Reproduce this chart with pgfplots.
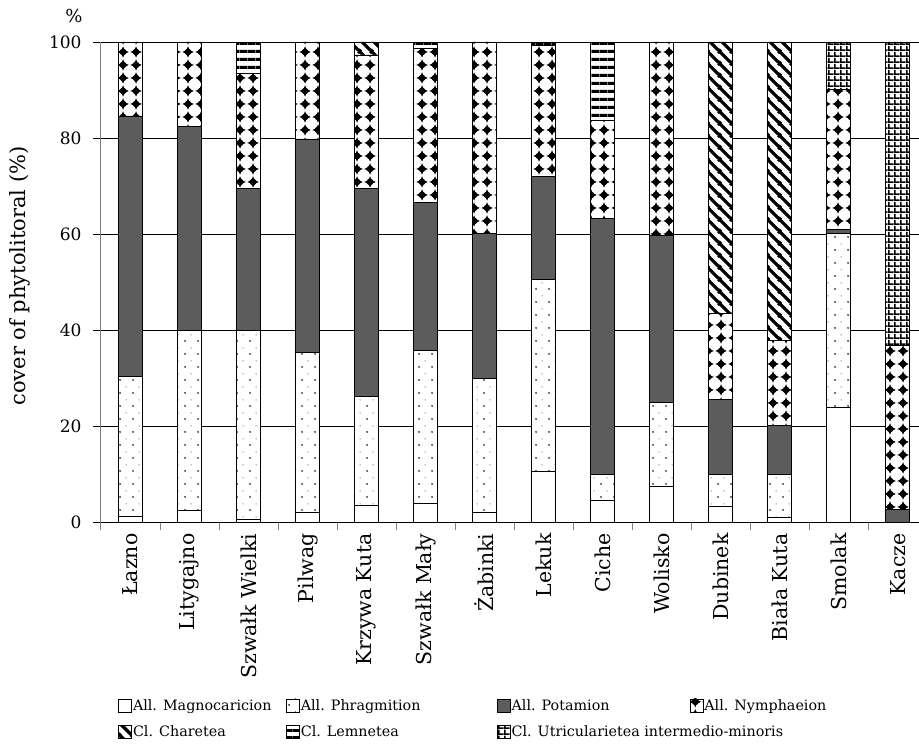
\documentclass[border=0pt]{standalone}
\usepackage{fontspec}
\setmainfont{DejaVu Serif}
\usepackage{pgfplots}
\pgfplotsset{compat=1.18}
\usepackage{pgfplotstable}
\usetikzlibrary{patterns.meta}
\definecolor{pot}{HTML}{5C5C5C}

\tikzdeclarepattern{
  name=phrag, type=colored,
  bottom left={(0pt,0pt)}, top right={(13pt,13pt)}, tile size={(13pt,13pt)},
  code={
    \fill[white] (0pt,0pt) rectangle (13pt,13pt);
    \fill[black!75] (3.25pt,3.25pt) circle (1.1pt);
    \fill[black!60] (9.75pt,9.75pt) circle (0.65pt);
  }
}
\tikzdeclarepattern{
  name=nymph, type=colored,
  bottom left={(0pt,0pt)}, top right={(13pt,13pt)}, tile size={(13pt,13pt)},
  code={
    \fill[white] (0pt,0pt) rectangle (13pt,13pt);
    \fill[black] (6.5pt,0.4pt) .. controls (7.6pt,4.2pt) .. (12.6pt,6.5pt)
      .. controls (7.6pt,8.8pt) .. (6.5pt,12.6pt)
      .. controls (5.4pt,8.8pt) .. (0.4pt,6.5pt)
      .. controls (5.4pt,4.2pt) .. (6.5pt,0.4pt);
    \fill[black] (6.5pt,6.5pt) circle (3.6pt);
  }
}
\tikzdeclarepattern{
  name=chara, type=colored,
  bottom left={(0pt,0pt)}, top right={(12pt,12pt)}, tile size={(12pt,12pt)},
  code={
    \fill[white] (0pt,0pt) rectangle (12pt,12pt);
    \draw[black, line width=3.5pt] (-1pt,13pt) -- (13pt,-1pt);
    \draw[black, line width=3.5pt] (-1pt,1pt) -- (1pt,-1pt);
    \draw[black, line width=3.5pt] (11pt,13pt) -- (13pt,11pt);
  }
}
\tikzdeclarepattern{
  name=lemna, type=colored,
  bottom left={(0pt,0pt)}, top right={(7.5pt,7.5pt)}, tile size={(7.5pt,7.5pt)},
  code={
    \fill[white] (0pt,0pt) rectangle (7.5pt,7.5pt);
    \fill[black] (0pt,0pt) rectangle (7.5pt,3.4pt);
  }
}
\tikzdeclarepattern{
  name=utric, type=colored,
  bottom left={(0pt,0pt)}, top right={(6pt,6pt)}, tile size={(6pt,6pt)},
  code={
    \fill[white] (0pt,0pt) rectangle (6pt,6pt);
    \fill[black] (0pt,0pt) rectangle (6pt,1.8pt);
    \fill[black] (0pt,0pt) rectangle (1.8pt,6pt);
  }
}

\pgfplotstableread{
x  mag   phr    pot    nym   cha   lem   utr
0  1.2   29.1   54.3   15.4  0     0     0
1  2.5   37.5   42.4   17.6  0     0     0
2  0.6   39.4   29.5   24.0  0     6.5   0
3  2.0   33.3   44.5   20.2  0     0     0
4  3.5   22.75  43.25  27.8  2.7   0     0
5  3.8   31.9   30.9   32.1  0     1.3   0
6  2.0   27.9   30.2   39.9  0     0     0
7  10.6  40.0   21.3   27.3  0     0.8   0
8  4.4   5.5    53.4   20.3  0     16.4  0
9  7.4   17.5   34.8   40.3  0     0     0
10 3.2   6.7    15.7   17.9  56.5  0     0
11 1.0   8.9    10.3   17.7  62.1  0     0
12 23.8  36.3   0.9    29.1  0     0     9.9
13 0     0      2.6    34.1  0     0     63.3
}\data

\pgfplotsset{
  myleg/.style={legend image code/.code={\draw[##1, line width=0.8pt] (0pt,-6.5pt) rectangle (13pt,6.5pt);}}
}

\begin{document}
\begin{tikzpicture}
\useasboundingbox (-101pt,-225pt) rectangle (818pt,522pt);
\begin{axis}[
  at={(0pt,0pt)}, anchor=south west,
  scale only axis, width=818pt, height=480pt,
  xmin=-0.5, xmax=13.36, ymin=0, ymax=100,
  ybar stacked, bar width=24pt,
  axis lines*=left, axis line style={-},
  x axis line style={black, line width=0.9pt},
  y axis line style={gray, line width=1pt, shorten <=-8pt},
  xtick={0,...,13},
  xticklabels={Łazno, Litygajno, Szwałk Wielki, Pilwag, Krzywa Kuta, Szwałk Mały, Żabinki, Lekuk, Ciche, Wolisko, Dubinek, Biała Kuta, Smolak, Kacze},
  minor xtick={0.5,1.5,...,12.5},
  ytick={0,20,...,100},
  tick align=outside,
  major tick length=8pt, minor tick length=8pt,
  major x tick style={draw=none},
  minor x tick style={gray, line width=0.8pt},
  major y tick style={black, line width=0.8pt},
  ymajorgrids, grid style={black, line width=0.9pt},
  /pgf/number format/assume math mode=true,
  yticklabel style={font=\fontsize{17}{20}\selectfont, xshift=-8pt},
  xticklabel style={rotate=90, anchor=east, font=\fontsize{20.5}{24}\selectfont},
  ylabel={cover of phytolitoral (\%)},
  ylabel style={at={(axis description cs:-0.099,0.5125)}, anchor=center, font=\fontsize{21}{25}\selectfont},
  legend columns=4,
  legend cell align=left,
  legend style={at={(axis description cs:0.0208,-0.3667)}, anchor=north west,
    draw=none, fill=none, inner sep=0pt,
    font=\fontsize{14.3}{17}\selectfont,
    nodes={inner sep=1pt},
    /tikz/column sep=0pt, /tikz/row sep=12pt,
    /tikz/every even column/.append style={column sep=0pt}},
]
\addplot[fill=white, draw=black, line width=0.8pt, myleg] table[x=x,y=mag]{\data};
\addlegendentry{\makebox[152pt][l]{All. Magnocaricion}}
\addplot[pattern=phrag, draw=black, line width=0.8pt, myleg] table[x=x,y=phr]{\data};
\addlegendentry{\makebox[195pt][l]{All. Phragmition}}
\addplot[fill=pot, draw=black, line width=0.8pt, myleg] table[x=x,y=pot]{\data};
\addlegendentry{\makebox[177pt][l]{All. Potamion}}
\addplot[pattern=nymph, draw=black, line width=0.8pt, myleg] table[x=x,y=nym]{\data};
\addlegendentry{All. Nymphaeion}
\addplot[pattern=chara, draw=black, line width=0.8pt, myleg] table[x=x,y=cha]{\data};
\addlegendentry{\makebox[152pt][l]{Cl. Charetea}}
\addplot[pattern=lemna, draw=black, line width=0.8pt, myleg] table[x=x,y=lem]{\data};
\addlegendentry{\makebox[195pt][l]{Cl. Lemnetea}}
\addplot[pattern=utric, draw=black, line width=0.8pt, myleg] table[x=x,y=utr]{\data};
\addlegendentry{\makebox[177pt][l]{Cl. Utricularietea intermedio-minoris}}
\end{axis}
\node[font=\fontsize{18}{20}\selectfont] at (-27pt,506pt) {\%};
\end{tikzpicture}
\end{document}
